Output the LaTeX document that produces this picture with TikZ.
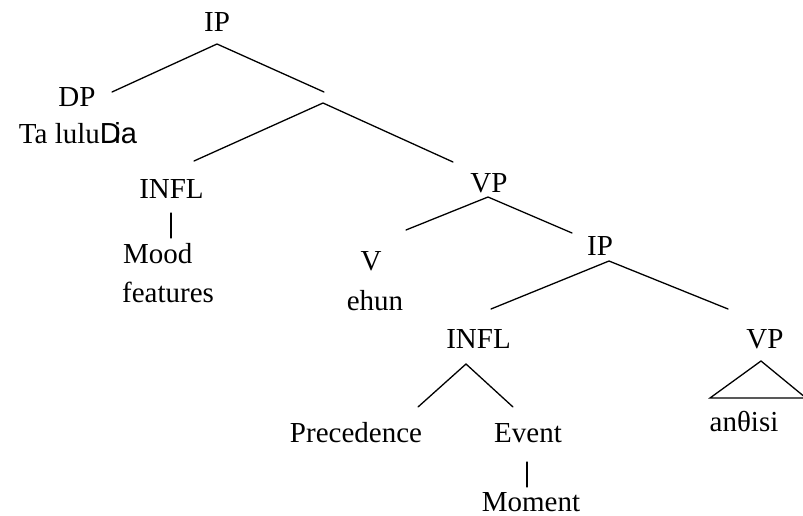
\documentclass[tikz,border=0pt]{standalone}
\usepackage{fontspec}
\setmainfont{Liberation Serif}
\setsansfont{Liberation Sans}
\begin{document}
\begin{tikzpicture}[x=1pt,y=-1pt,
  lbl/.style={anchor=base,inner sep=0pt,font=\fontsize{29}{32}\selectfont},
  edge/.style={line width=1.3pt,line cap=round,line join=miter}]
\useasboundingbox (0,0) rectangle (803,516);
% labels
\node[lbl] (ip1) at (217,32) {IP};
\node[lbl] (dp) at (77,107) {DP};
\node[lbl] (tl) at (78,143) {Ta lulu{\sffamily D\kern-0.22em ia}};
\node[lbl] (infl1) at (171.5,198) {INFL};
\node[lbl] (vp1) at (489,192) {VP};
\node[lbl,anchor=base west] (mood) at (123,263) {Mood};
\node[lbl,anchor=base west] (feat) at (122,302) {features};
\node[lbl] (v) at (371,270) {V};
\node[lbl] (ehun) at (375,310) {ehun};
\node[lbl] (ip2) at (600,255) {IP};
\node[lbl] (infl2) at (478.5,348) {INFL};
\node[lbl] (vp2) at (765,348) {VP};
\node[lbl] (prec) at (356,442) {Precedence};
\node[lbl] (event) at (528,442) {Event};
\node[lbl] (moment) at (531,511) {Moment};
\node[lbl] (anth) at (744,431) {anθisi};
% branch points
\coordinate (a1) at (112,92); \coordinate (a0) at (217,44); \coordinate (a2) at (324,92);
\coordinate (b1) at (194,161); \coordinate (b0) at (323,103); \coordinate (b2) at (453,162);
\coordinate (c1) at (406,230); \coordinate (c0) at (488,197); \coordinate (c2) at (572,233);
\coordinate (d1) at (491,309); \coordinate (d0) at (609,261); \coordinate (d2) at (728,309);
\coordinate (e1) at (171,213); \coordinate (e2) at (171,238);
\coordinate (f1) at (418,407); \coordinate (f0) at (466,364); \coordinate (f2) at (513,407);
\coordinate (g1) at (527,462); \coordinate (g2) at (527,487);
\coordinate (t0) at (761,361); \coordinate (t1) at (710,398); \coordinate (t2) at (806,398);
% edges
\draw[edge] (a1) -- (a0) -- (a2);
\draw[edge] (b1) -- (b0) -- (b2);
\draw[edge] (c1) -- (c0) -- (c2);
\draw[edge] (d1) -- (d0) -- (d2);
\draw[edge] (e1) -- (e2);
\draw[edge] (f1) -- (f0) -- (f2);
\draw[edge] (g1) -- (g2);
\draw[edge] (t1) -- (t0) -- (t2) -- cycle;
\end{tikzpicture}
\end{document}
